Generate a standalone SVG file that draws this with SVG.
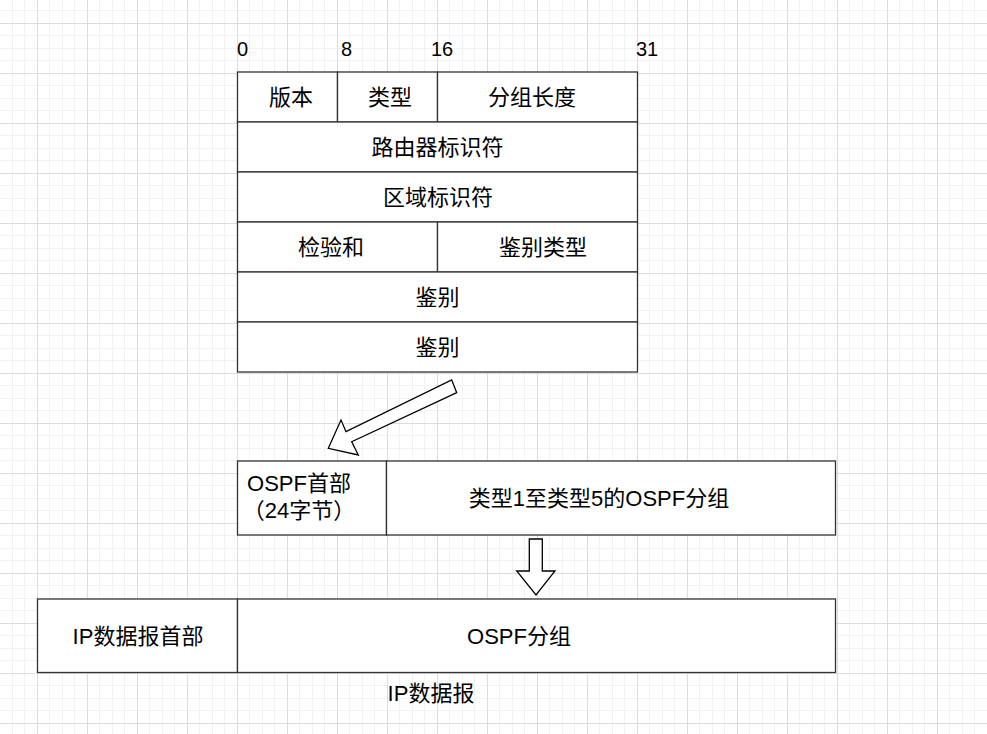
<svg xmlns="http://www.w3.org/2000/svg" width="987" height="734" viewBox="0 0 987 734">
<style>
.box{fill:#ffffff;stroke:#333333;stroke-width:1.3}
.ln{stroke:#333333;stroke-width:1.3;fill:none}
.t{font-family:"Liberation Sans","Noto Sans CJK SC",sans-serif;font-size:22px;fill:#000000;text-anchor:middle}
.n{font-family:"Liberation Sans",sans-serif;font-size:20px;fill:#000000}
.arr{fill:#ffffff;stroke:#000000;stroke-width:1.3;stroke-linejoin:miter}
</style>
<defs>
<pattern id="grid" patternUnits="userSpaceOnUse" x="37" y="23" width="50" height="50">
<rect x="0" y="0" width="50" height="50" fill="#ffffff"/>
<rect x="12" y="0" width="1" height="50" fill="#f2f2f2"/>
<rect x="25" y="0" width="1" height="50" fill="#f2f2f2"/>
<rect x="37" y="0" width="1" height="50" fill="#f2f2f2"/>
<rect x="0" y="12" width="50" height="1" fill="#f2f2f2"/>
<rect x="0" y="25" width="50" height="1" fill="#f2f2f2"/>
<rect x="0" y="37" width="50" height="1" fill="#f2f2f2"/>
<rect x="0" y="0" width="1" height="50" fill="#dcdcdc"/>
<rect x="0" y="0" width="50" height="1" fill="#dcdcdc"/>
</pattern>
</defs>
<rect x="0" y="0" width="987" height="734" fill="url(#grid)"/>

<g id="bit-labels">
<text class="n" x="237" y="56">0</text>
<text class="n" x="341" y="56">8</text>
<text class="n" x="431" y="56">16</text>
<text class="n" x="636" y="56">31</text>
</g>

<g id="header-table">
<g id="row-version">
<rect class="box" x="237.5" y="72" width="100" height="50"/>
<text class="t" x="291" y="105">版本</text>
</g>
<g id="row-type">
<rect class="box" x="337.5" y="72" width="100" height="50"/>
<text class="t" x="390" y="105">类型</text>
</g>
<g id="row-length">
<rect class="box" x="437.5" y="72" width="200" height="50"/>
<text class="t" x="532" y="105">分组长度</text>
</g>
<g id="row-router">
<rect class="box" x="237.5" y="122" width="400" height="50"/>
<text class="t" x="437.5" y="155">路由器标识符</text>
</g>
<g id="row-area">
<rect class="box" x="237.5" y="172" width="400" height="50"/>
<text class="t" x="438" y="205">区域标识符</text>
</g>
<g id="row-checksum">
<rect class="box" x="237.5" y="222" width="200" height="50"/>
<text class="t" x="331" y="255">检验和</text>
</g>
<g id="row-authtype">
<rect class="box" x="437.5" y="222" width="200" height="50"/>
<text class="t" x="543" y="255">鉴别类型</text>
</g>
<g id="row-auth1">
<rect class="box" x="237.5" y="272" width="400" height="50"/>
<text class="t" x="437.5" y="305">鉴别</text>
</g>
<g id="row-auth2">
<rect class="box" x="237.5" y="322" width="400" height="50"/>
<text class="t" x="437.5" y="355">鉴别</text>
</g>
</g>

<g id="ospf-packet">
<g id="ospf-header">
<rect class="box" x="237.5" y="461" width="149" height="74"/>
<text class="t" x="299" y="491">OSPF首部</text>
<text class="t" x="299" y="518">（24字节）</text>
</g>
<g id="ospf-body">
<rect class="box" x="386.5" y="461" width="449" height="74"/>
<text class="t" x="599" y="506">类型1至类型5的OSPF分组</text>
</g>
</g>

<g id="ip-datagram">
<g id="ip-header">
<rect class="box" x="37.5" y="599" width="200" height="73.5"/>
<text class="t" x="138" y="644">IP数据报首部</text>
</g>
<g id="ip-payload">
<rect class="box" x="237.5" y="599" width="598" height="73.5"/>
<text class="t" x="519" y="644">OSPF分组</text>
</g>
<text id="ip-label" class="t" x="431" y="701">IP数据报</text>
</g>

<g id="connectors">
<polygon class="arr" points="451.7,380 456.7,392.7 351.7,441.7 358.3,455 328.3,448.3 341,420 346,431.7"/>
<polygon class="arr" points="529.3,539 542.3,539 542.3,571 555,571 536,595 516.7,571 529.3,571"/>
</g>
</svg>
